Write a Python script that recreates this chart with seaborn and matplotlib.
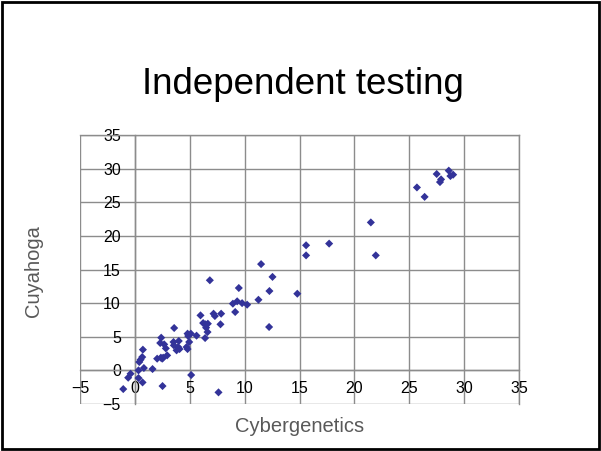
import numpy as np
import pandas as pd
import matplotlib
matplotlib.use("Agg")
import matplotlib.pyplot as plt
from matplotlib.patches import Rectangle
import seaborn as sns

# -- values
cybergenetics = [25.7, 26.4, 27.5, 27.8, 27.9, 28.6, 28.75, 29.0, 21.5, 21.95,
                 15.6, 15.6, 17.7, 14.8, 11.5,
                 6.83, 12.54, 9.47, 12.26, 11.26, 8.93, 9.32, 9.77, 10.23, 9.14,
                 12.23, 5.98, 7.17, 7.29, 7.86, 7.8, 6.22, 6.44, 6.65, 6.49,
                 6.62, 6.4, 5.62, 5.1, 4.8, 4.86, 4.95, 4.71, 4.8, 4.0,
                 3.58, 3.52, 3.55, 3.95, 3.8, 4.07, 2.4, 2.31, 2.67, 2.82,
                 2.94, 2.58, 2.37, 2.03, 2.49, 0.73, 0.67, 0.52, 0.4, 1.61,
                 0.82, 0.33, -0.39, -0.61, 0.33, 0.7, -1.06, 2.52, 5.13, 7.62]
cuyahoga = [27.2, 25.8, 29.2, 28.0, 28.4, 29.7, 28.9, 29.1, 22.0, 17.1,
            18.6, 17.1, 18.85, 11.4, 15.8,
            13.4, 13.9, 12.25, 11.8, 10.5, 9.92, 10.27, 10.0, 9.77, 8.68,
            6.45, 8.18, 8.43, 8.08, 8.43, 6.85, 7.04, 6.85, 6.94, 6.35,
            5.7, 4.81, 5.16, 5.46, 5.46, 5.1, 4.22, 3.47, 3.17, 4.37,
            6.3, 4.22, 3.72, 3.47, 2.98, 3.17, 4.86, 4.07, 3.87, 3.27,
            2.23, 1.89, 1.89, 1.74, 1.74, 3.08, 1.98, 1.59, 1.24, 0.2,
            0.35, 0.0, -0.5, -1.09, -1.14, -1.79, -2.78, -2.33, -0.69, -3.27]
ticks = list(range(-5, 40, 5))

df = pd.DataFrame({"Cybergenetics": cybergenetics, "Cuyahoga": cuyahoga})

sns.set_style("white")
plt.rcParams['font.family'] = ['Liberation Sans', 'DejaVu Sans']

fig = plt.figure(figsize=(6.01, 4.51), dpi=100)
ax = fig.add_axes([80/601, 1 - 404/451, 439/601, 269/451])

sns.scatterplot(data=df, x="Cybergenetics", y="Cuyahoga", ax=ax,
                marker="D", s=17, color="#333399", edgecolor="none", zorder=3)

ax.set_xlim(-5, 35)
ax.set_ylim(-5, 35)
ax.set_xticks(ticks)
ax.set_yticks(ticks)
ax.grid(True, color="#8c8c8c", linewidth=1)

# -- excel style axes crossing at zero
for side in ["left", "bottom"]:
    ax.spines[side].set_position(("data", 0))
    ax.spines[side].set_color("#8c8c8c")
    ax.spines[side].set_linewidth(1)
for side in ["top", "right"]:
    ax.spines[side].set_color("#8c8c8c")
    ax.spines[side].set_linewidth(1)
ax.tick_params(axis="both", length=0, labelsize=11.5, labelcolor="black")
ax.tick_params(axis="x", pad=8)
ax.tick_params(axis="y", pad=10)

ax.set_xlabel("")
ax.set_ylabel("")
fig.text(300/601, 1 - 426/451, "Cybergenetics", ha="center", va="center",
         fontsize=14.5, color="#595959")
fig.text(33/601, 1 - 271/451, "Cuyahoga", ha="center", va="center",
         rotation=90, fontsize=14.5, color="#595959")
fig.text(303/601, 1 - 84/451, "Independent testing", ha="center", va="center",
         fontsize=26.5, color="black")

fig.patches.append(Rectangle((0.004, 0.004), 0.992, 0.992, transform=fig.transFigure,
                             fill=False, edgecolor="black", linewidth=2))

fig.savefig("out.png", dpi=100)
